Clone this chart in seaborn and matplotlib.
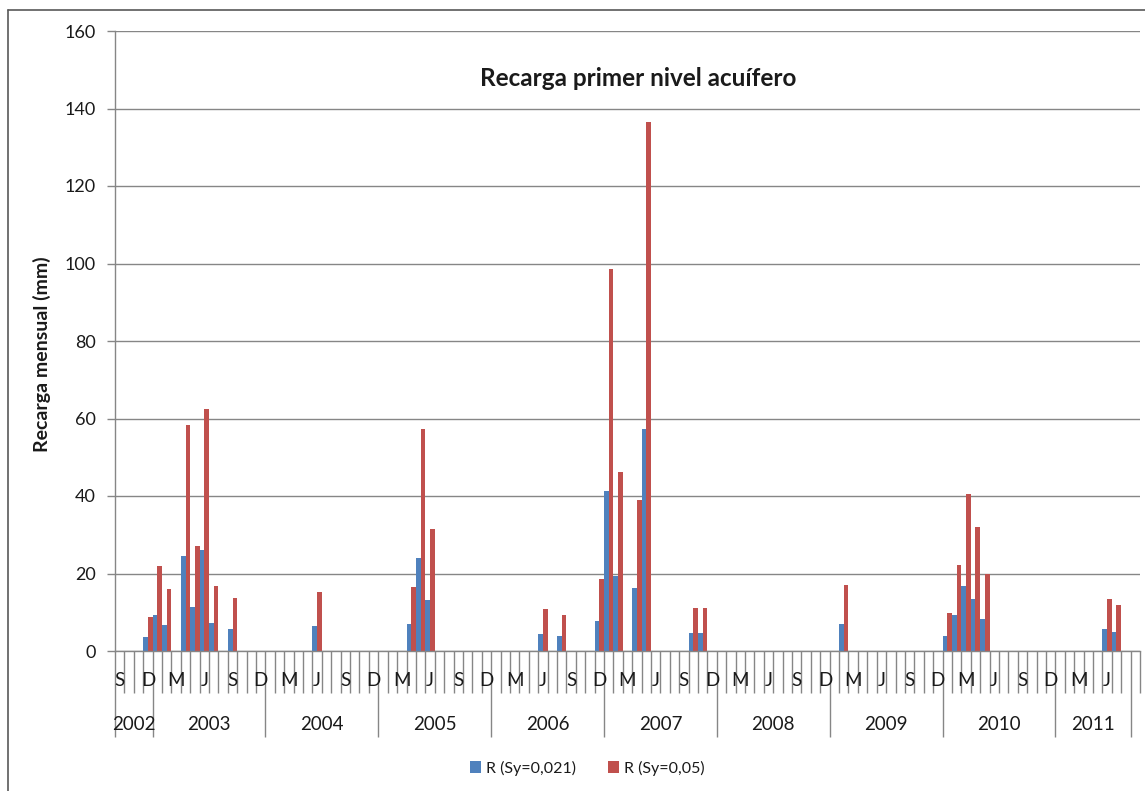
# ==========================================
# Recarga primer nivel acuifero - monthly bars
# ==========================================

import pandas as pd
import matplotlib.pyplot as plt
import seaborn as sns
from matplotlib.lines import Line2D

# ----------------------------
# Data (mm), Sep 2002 -> Sep 2011
# ----------------------------
months = pd.period_range("2002-09", "2011-09", freq="M")

r_sy021 = (
    [0, 0, 0, 3.7]                                                   # 2002
    + [9.2, 6.6, 0, 24.5, 11.4, 26.1, 7.1, 0, 5.8, 0, 0, 0]          # 2003
    + [0, 0, 0, 0, 0, 6.5, 0, 0, 0, 0, 0, 0]                         # 2004
    + [0, 0, 0, 6.9, 24.1, 13.2, 0, 0, 0, 0, 0, 0]                   # 2005
    + [0, 0, 0, 0, 0, 4.4, 0, 3.8, 0, 0, 0, 7.8]                     # 2006
    + [41.3, 19.3, 0, 16.2, 57.3, 0, 0, 0, 0, 4.7, 4.7, 0]           # 2007
    + [0, 0, 0, 0, 0, 0, 0, 0, 0, 0, 0, 0]                           # 2008
    + [0, 7.0, 0, 0, 0, 0, 0, 0, 0, 0, 0, 0]                         # 2009
    + [4.0, 9.2, 16.8, 13.3, 8.3, 0, 0, 0, 0, 0, 0, 0]               # 2010
    + [0, 0, 0, 0, 0, 5.7, 5.0, 0, 0]                                # 2011
)

r_sy05 = (
    [0, 0, 0, 8.9]
    + [22.0, 16.0, 0, 58.3, 27.2, 62.4, 16.9, 0, 13.8, 0, 0, 0]
    + [0, 0, 0, 0, 0, 15.1, 0, 0, 0, 0, 0, 0]
    + [0, 0, 0, 16.4, 57.2, 31.4, 0, 0, 0, 0, 0, 0]
    + [0, 0, 0, 0, 0, 10.8, 0, 9.2, 0, 0, 0, 18.5]
    + [98.5, 46.1, 0, 38.9, 136.5, 0, 0, 0, 0, 11.0, 11.2, 0]
    + [0, 0, 0, 0, 0, 0, 0, 0, 0, 0, 0, 0]
    + [0, 17.0, 0, 0, 0, 0, 0, 0, 0, 0, 0, 0]
    + [9.8, 22.2, 40.6, 32.0, 20.0, 0, 0, 0, 0, 0, 0, 0]
    + [0, 0, 0, 0, 0, 13.4, 12.0, 0, 0]
)

series_names = ["R (Sy=0,021)", "R (Sy=0,05)"]
colors = ["#4F81BD", "#C0504D"]
month_letters = {9: "S", 12: "D", 3: "M", 6: "J"}
last_year_end = "2011-08"   # year band 2011 ends here

# ----------------------------
# Long table for seaborn
# ----------------------------
keys = [str(m) for m in months]
df = pd.DataFrame({
    "mes": keys * 2,
    "valor": r_sy021 + r_sy05,
    "serie": [series_names[0]] * len(keys) + [series_names[1]] * len(keys),
})

sns.set_style("white")
plt.rcParams["font.family"] = ["Lato", "DejaVu Sans"]
grey = "#868686"
txt = "#1a1a1a"

fig = plt.figure(figsize=(11.45, 7.91), dpi=100)
ax = fig.add_axes([115 / 1145, 140 / 791, 1025 / 1145, 620 / 791])

sns.barplot(data=df, x="mes", y="valor", hue="serie", palette=colors,
            width=1.0, gap=0, saturation=1, errorbar=None, linewidth=0,
            ax=ax)

n = len(keys)
ax.set_xlim(-0.5, n - 0.5)
ax.set_ylim(0, 160)
ax.set_yticks(range(0, 161, 20))
ax.yaxis.grid(True, color=grey, linewidth=1)
ax.set_axisbelow(True)
ax.set_xlabel("")
ax.set_ylabel("")

for s in ["top", "right"]:
    ax.spines[s].set_visible(False)
for s in ["left", "bottom"]:
    ax.spines[s].set_color(grey)
    ax.spines[s].set_linewidth(1)

# ----------------------------
# Two level category axis (month / year)
# ----------------------------
last_idx = keys.index(last_year_end)
year_bounds = [-0.5] + [i - 0.5 for i, m in enumerate(months) if m.month == 1] + [last_idx + 0.5]
ax.set_xticks(year_bounds, labels=[""] * len(year_bounds))
ax.set_xticks([i - 0.5 for i in range(n + 1)], minor=True)
ax.tick_params(axis="x", which="both", bottom=True)
ax.tick_params(axis="x", which="major", length=62, width=1, color=grey, direction="out")
ax.tick_params(axis="x", which="minor", length=30, width=1, color=grey, direction="out")
ax.tick_params(axis="y", left=True, length=6, width=1, color=grey, pad=8, labelsize=13,
               labelcolor=txt)

xt = ax.get_xaxis_transform()
for i, m in enumerate(months):
    if m.month in month_letters and i <= last_idx:
        ax.text(i, -0.047, month_letters[m.month], transform=xt,
                ha="center", va="center", fontsize=13.5, color=txt)

for a, b in zip(year_bounds[:-1], year_bounds[1:]):
    yr = months[int(a + 0.5)].year
    ax.text((a + b) / 2, -0.119, str(yr), transform=xt,
            ha="center", va="center", fontsize=13.5, color=txt)

# ----------------------------
# Titles, legend, frame
# ----------------------------
fig.text(638 / 1145, 1 - 78 / 791, "Recarga primer nivel acuífero",
         ha="center", va="center", fontsize=17.5, fontweight="bold", color=txt)
fig.text(42 / 1145, 1 - 354 / 791, "Recarga mensual (mm)", rotation=90,
         ha="center", va="center", fontsize=14, fontweight="bold", color=txt)

handles, labels = ax.get_legend_handles_labels()
ax.get_legend().remove()
fig.legend(handles, labels, loc="center", bbox_to_anchor=(587 / 1145, 1 - 768 / 791),
           ncol=2, frameon=False, fontsize=11.5, handlelength=0.7, handleheight=0.7,
           handletextpad=0.3, columnspacing=2.0, labelcolor=txt)

fig.add_artist(Line2D([8 / 1145, 8 / 1145], [0, 1 - 10 / 791], color="#595959", linewidth=1.2))
fig.add_artist(Line2D([8 / 1145, 1], [1 - 10 / 791, 1 - 10 / 791], color="#595959", linewidth=1.2))

fig.savefig("out.png", dpi=100, facecolor="white")
plt.close()
